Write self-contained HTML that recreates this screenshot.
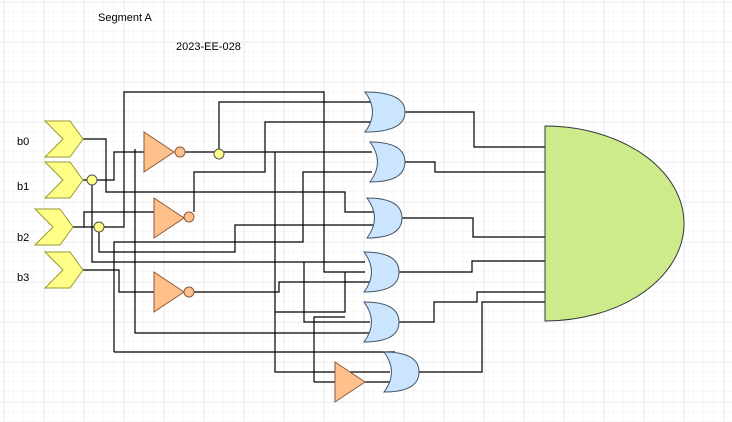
<!DOCTYPE html>
<html><head><meta charset="utf-8"><style>
html,body{margin:0;padding:0;background:#fff;}
svg{display:block;}
text{font-family:"Liberation Sans",sans-serif;font-size:11px;fill:#000;}
</style></head><body>
<svg width="732" height="422" viewBox="0 0 732 422" xmlns="http://www.w3.org/2000/svg">
<defs>
<pattern id="mn" x="4" y="2" width="10" height="10" patternUnits="userSpaceOnUse"><path d="M10 0V10M0 10H10" stroke="#f0f0f0" stroke-width="1" fill="none"/></pattern>
<pattern id="mj" x="4" y="2" width="40" height="40" patternUnits="userSpaceOnUse"><path d="M0 0V40M0 0H40" stroke="#e2e2e2" stroke-width="1" fill="none"/></pattern>
</defs>
<rect width="732" height="422" fill="url(#mn)"/>
<rect width="732" height="422" fill="url(#mj)"/>
<text x="98" y="21">Segment A</text>
<text x="176" y="50">2023-EE-028</text>
<text x="17" y="145">b0</text>
<text x="17" y="190">b1</text>
<text x="17" y="241">b2</text>
<text x="17" y="281">b3</text>

<g fill="none" stroke="#000" stroke-width="1.2">
<polyline points="83,139 106,139 106,192 345,192 345,212 375,212"/>
<polyline points="83,180 92,180 114,180 114,152 144,152"/>
<polyline points="92,180 92,262 365,262"/>
<polyline points="304,262 304,322 370,322"/>
<polyline points="185,152 372,152"/>
<polyline points="219,152 219,102 372,102"/>
<polyline points="275,152 275,372 390,372"/>
<polyline points="275,312 345,312 345,272"/>
<polyline points="314,382 314,317 345,317"/>
<polyline points="314,382 335,382"/>
<polyline points="73,227 84,227 84,212 154,212"/>
<polyline points="84,227 124,227 124,92 324,92 324,272 365,272"/>
<polyline points="99,227 99,252 235,252 235,225 373,225"/>
<polyline points="135,149 135,333 370,333"/>
<polyline points="114,352 114,242 303,242 303,172 372,172"/>
<polyline points="114,352 395,352"/>
<polyline points="83,270 119,270 119,292 154,292"/>
<polyline points="194,212 194,172 265,172 265,122 372,122"/>
<polyline points="194,292 279,292 279,282 370,282"/>
<polyline points="365,382 390,382"/>
<polyline points="405,112 474,112 474,147 548,147"/>
<polyline points="405,162 435,162 435,172 545,172"/>
<polyline points="402,218 473,218 473,237 548,237"/>
<polyline points="399,272 472,272 472,261 545,261"/>
<polyline points="399,322 434,322 434,302 477,302 477,292 555,292"/>
<polyline points="419,372 482,372 482,302 545,302"/>
</g>

<g fill="#ffff88" stroke="#999933" stroke-width="1">
<polygon points="45,121 70,121 83,139 70,157 45,157 63,139"/>
<polygon points="45,162 70,162 83,180 70,198 45,198 63,180"/>
<polygon points="35,209 60,209 73,227 60,245 35,245 53,227"/>
<polygon points="45,252 70,252 83,270 70,288 45,288 63,270"/>
</g>
<g fill="#ffff88" stroke="#555" stroke-width="1">
<circle cx="92" cy="180" r="5"/>
<circle cx="99" cy="227" r="5"/>
<circle cx="219" cy="154" r="5"/>
</g>
<g fill="#ffc08c" stroke="#8a5a3a" stroke-width="1">
<polygon points="144,132 174,152 144,172"/>
<circle cx="180" cy="152" r="5"/>
<polygon points="154,198 184,218 154,238"/>
<circle cx="189" cy="217" r="5"/>
<polygon points="154,272 184,292 154,312"/>
<circle cx="189" cy="292" r="5"/>
<polygon points="335,362 365,382 335,402"/>
</g>
<g fill="#cce5ff" stroke="#445566" stroke-width="1">
<path d="M365,92 Q405,92 405,112 Q405,132 365,132 Q380,112 365,92Z"/>
<path d="M370,142 Q405,142 405,162 Q405,182 370,182 Q385,162 370,142Z"/>
<path d="M367,198 Q402,198 402,218 Q402,238 367,238 Q382,218 367,198Z"/>
<path d="M364,252 Q399,252 399,272 Q399,292 364,292 Q379,272 364,252Z"/>
<path d="M364,302 Q399,302 399,322 Q399,342 364,342 Q379,322 364,302Z"/>
<path d="M384,352 Q419,352 419,372 Q419,392 384,392 Q399,372 384,352Z"/>
</g>
<path d="M545,126 A139,97.5 0 0 1 545,321 Z" fill="#cdeb8b" stroke="#36393d" stroke-width="1"/>
</svg>
</body></html>
